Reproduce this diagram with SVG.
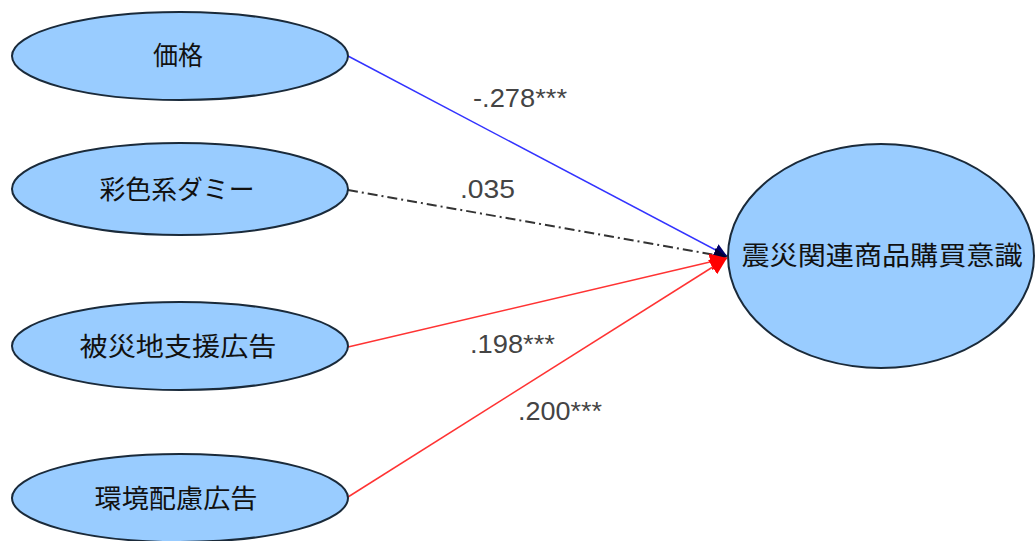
<svg xmlns="http://www.w3.org/2000/svg" width="1035" height="541" viewBox="0 0 1035 541">
<style>
.node{fill:#99ccff;stroke:#1a2a3a;stroke-width:2}
.lbl{font-family:"Liberation Sans","Noto Sans CJK JP",sans-serif;font-size:26px;fill:#111;text-anchor:middle}
.num{font-family:"Liberation Sans",Arial,sans-serif;font-size:26px;fill:#444}
</style>
<defs>
<marker id="ab" viewBox="0 0 10 10" refX="10" refY="5" markerWidth="13" markerHeight="13" markerUnits="userSpaceOnUse" orient="auto"><path d="M0,0 L10,5 L0,10 z" fill="#000066"/></marker>
<marker id="ak" viewBox="0 0 10 10" refX="10" refY="5" markerWidth="13" markerHeight="13" markerUnits="userSpaceOnUse" orient="auto"><path d="M0,0 L10,5 L0,10 z" fill="#000033"/></marker>
<marker id="ar" viewBox="0 0 10 10" refX="10" refY="5" markerWidth="17" markerHeight="17" markerUnits="userSpaceOnUse" orient="auto"><path d="M0,0 L10,5 L0,10 z" fill="#ff0000"/></marker>
</defs>
<rect width="1035" height="541" fill="#ffffff"/>
<g id="connectors">
<line x1="348" y1="56" x2="727" y2="256" stroke="#3333ff" stroke-width="1.5" marker-end="url(#ab)"/>
<line x1="348" y1="190" x2="727" y2="257" stroke="#333333" stroke-width="2" stroke-dasharray="10,4,2,4" marker-end="url(#ak)"/>
<line x1="348" y1="347" x2="727" y2="258" stroke="#ff3333" stroke-width="1.5" marker-end="url(#ar)"/>
<line x1="348" y1="497" x2="727" y2="258" stroke="#ff3333" stroke-width="1.5" marker-end="url(#ar)"/>
<text class="num" x="473" y="107" textLength="94" lengthAdjust="spacingAndGlyphs">-.278***</text>
<text class="num" x="460" y="198" textLength="55" lengthAdjust="spacingAndGlyphs">.035</text>
<text class="num" x="470" y="353" textLength="85" lengthAdjust="spacingAndGlyphs">.198***</text>
<text class="num" x="518" y="420" textLength="84" lengthAdjust="spacingAndGlyphs">.200***</text>
</g>
<g id="node-price">
<ellipse class="node" cx="180" cy="56" rx="168" ry="44"/>
<text class="lbl" x="178" y="65" textLength="50" lengthAdjust="spacingAndGlyphs">価格</text>
</g>
<g id="node-color">
<ellipse class="node" cx="180" cy="189" rx="168" ry="46"/>
<text class="lbl" x="177" y="199" textLength="155" lengthAdjust="spacingAndGlyphs">彩色系ダミー</text>
</g>
<g id="node-disaster">
<ellipse class="node" cx="180" cy="346" rx="168" ry="44"/>
<text class="lbl" x="178" y="356" textLength="197" lengthAdjust="spacingAndGlyphs">被災地支援広告</text>
</g>
<g id="node-env">
<ellipse class="node" cx="180" cy="498" rx="168" ry="44"/>
<text class="lbl" x="176" y="508" textLength="163" lengthAdjust="spacingAndGlyphs">環境配慮広告</text>
</g>
<g id="node-target">
<ellipse class="node" cx="881" cy="256" rx="153" ry="112"/>
<text class="lbl" x="882" y="265" textLength="281" lengthAdjust="spacingAndGlyphs">震災関連商品購買意識</text>
</g>
</svg>
